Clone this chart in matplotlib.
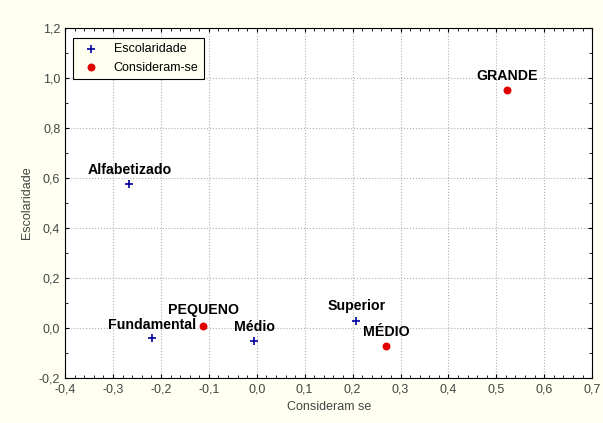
import matplotlib.pyplot as plt
from matplotlib.ticker import FuncFormatter, MultipleLocator

plt.rcParams['font.family'] = ['Liberation Sans', 'DejaVu Sans']

# Escolaridade (linhas)
esc_names = ["Alfabetizado", "Fundamental", "Médio", "Superior"]
esc_x = [-0.266, -0.218, -0.005, 0.208]
esc_y = [0.576, -0.040, -0.052, 0.028]

# Consideram-se (colunas)
cons_names = ["PEQUENO", "MÉDIO", "GRANDE"]
cons_x = [-0.112, 0.270, 0.523]
cons_y = [0.008, -0.072, 0.952]

fig = plt.figure(figsize=(6.03, 4.23), dpi=100, facecolor='#fffff2')
ax = fig.add_axes([0.108, 0.106, 0.874, 0.828])

ax.scatter(esc_x, esc_y, marker='+', s=30, color='#0000a0', linewidths=1.2, label='Escolaridade', zorder=3)
ax.scatter(cons_x, cons_y, marker='o', s=22, color='#e00000', label='Consideram-se', zorder=3)

# rótulos dos pontos, centrados acima de cada ponto
esc_off = [10, 9.5, 10, 11]
for name, x, y, dy in zip(esc_names, esc_x, esc_y, esc_off):
    ax.annotate(name, (x, y), xytext=(0, dy), textcoords='offset points',
                ha='center', va='center', fontsize=10.2, fontweight='bold')
cons_off = [11.5, 10, 10]
for name, x, y, dy in zip(cons_names, cons_x, cons_y, cons_off):
    ax.annotate(name, (x, y), xytext=(0, dy), textcoords='offset points',
                ha='center', va='center', fontsize=10.2, fontweight='bold')

ax.set_xlim(-0.4, 0.7)
ax.set_ylim(-0.2, 1.2)
ax.xaxis.set_major_locator(MultipleLocator(0.1))
ax.yaxis.set_major_locator(MultipleLocator(0.2))
ax.xaxis.set_minor_locator(MultipleLocator(0.02))
ax.yaxis.set_minor_locator(MultipleLocator(0.1))
fmt = FuncFormatter(lambda v, p: f'{v:.1f}'.replace('.', ',').replace('-0,0', '0,0'))
ax.xaxis.set_major_formatter(fmt)
ax.yaxis.set_major_formatter(fmt)
ax.tick_params(which='both', direction='in', top=True, right=True, labelsize=9, labelcolor='#444444')
ax.tick_params(which='major', length=3)
ax.tick_params(which='minor', length=2)
ax.grid(True, which='major', linestyle=':', color='#b0b0b0', linewidth=0.8)
for s in ax.spines.values():
    s.set_linewidth(0.8)

ax.set_xlabel('Consideram se', fontsize=9, color='#444444')
ax.set_ylabel('Escolaridade', fontsize=9, color='#444444')

leg = ax.legend(loc='upper left', bbox_to_anchor=(0.015, 0.972), borderaxespad=0, fontsize=9,
                frameon=True, fancybox=False, edgecolor='black', facecolor='#fffff2', framealpha=1,
                handletextpad=0.8, borderpad=0.45, labelspacing=0.5)
leg.get_frame().set_linewidth(0.8)

fig.savefig('out.png', dpi=100, facecolor=fig.get_facecolor())
